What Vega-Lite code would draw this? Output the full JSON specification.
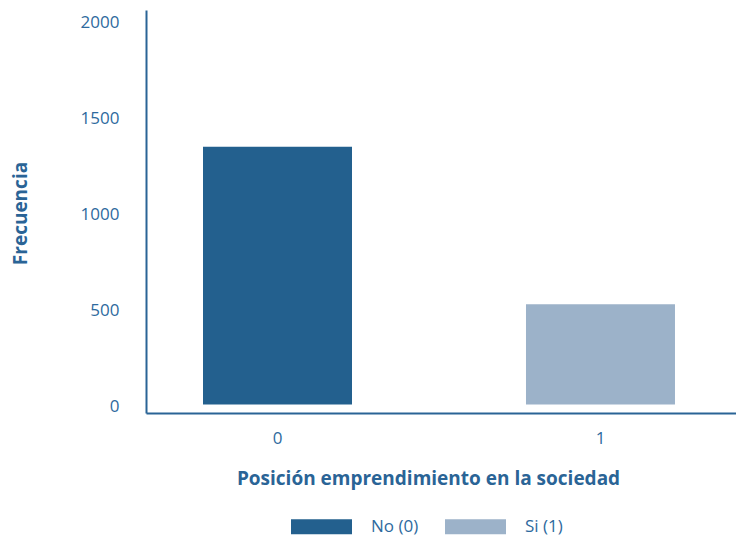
{
  "$schema": "https://vega.github.io/schema/vega-lite/v6.json",
  "autosize": "none",
  "width": 590,
  "height": 403,
  "padding": {"left": 146, "top": 10, "right": 0, "bottom": 125},
  "background": "white",
  "data": {
    "values": [
      {"posicion": "0", "frecuencia": 1343, "grupo": "No (0)"},
      {"posicion": "1", "frecuencia": 523, "grupo": "Si (1)"}
    ]
  },
  "mark": {"type": "bar"},
  "encoding": {
    "x": {
      "field": "posicion",
      "type": "nominal",
      "sort": ["0", "1"],
      "scale": {"paddingInner": 0.5387, "paddingOuter": 0.1827, "align": 0.483},
      "axis": {
        "title": "Posición emprendimiento en la sociedad",
        "labelAngle": 0,
        "ticks": false,
        "labelPadding": 17,
        "titleX": 282,
        "titleY": 65,
        "titleBaseline": "middle",
        "titleAnchor": "middle",
        "titleAlign": "center"
      }
    },
    "y": {
      "field": "frecuencia",
      "type": "quantitative",
      "scale": {"domain": [-44, 2055], "nice": false, "zero": false},
      "axis": {
        "title": "Frecuencia",
        "values": [0, 500, 1000, 1500, 2000],
        "format": "d",
        "ticks": false,
        "grid": false,
        "labelPadding": 27,
        "labelOffset": 2,
        "titleX": -126,
        "titleY": 203,
        "titleBaseline": "middle",
        "titleAngle": -90,
        "titleAlign": "center"
      }
    },
    "y2": {"datum": 0},
    "color": {
      "field": "grupo",
      "type": "nominal",
      "scale": {"domain": ["No (0)", "Si (1)"], "range": ["#23608e", "#9cb2c9"]},
      "legend": {
        "title": null,
        "orient": "none",
        "direction": "horizontal",
        "columns": 2,
        "legendX": 145,
        "legendY": 486,
        "padding": 0,
        "symbolType": "M-1,-0.246H1V0.246H-1Z",
        "symbolSize": 3721,
        "symbolStrokeWidth": 0,
        "labelOffset": 19,
        "columnPadding": 26,
        "labelFont": "Open Sans",
        "labelFontSize": 17,
        "labelColor": "#2e6a9e"
      }
    }
  },
  "config": {
    "view": {"stroke": null},
    "axis": {
      "domainColor": "#2a6496",
      "domainWidth": 2,
      "labelFont": "Open Sans",
      "labelFontSize": 17,
      "labelColor": "#2e6a9e",
      "titleFont": "Open Sans",
      "titleFontSize": 19,
      "titleFontWeight": "bold",
      "titleColor": "#2a6496"
    }
  }
}
